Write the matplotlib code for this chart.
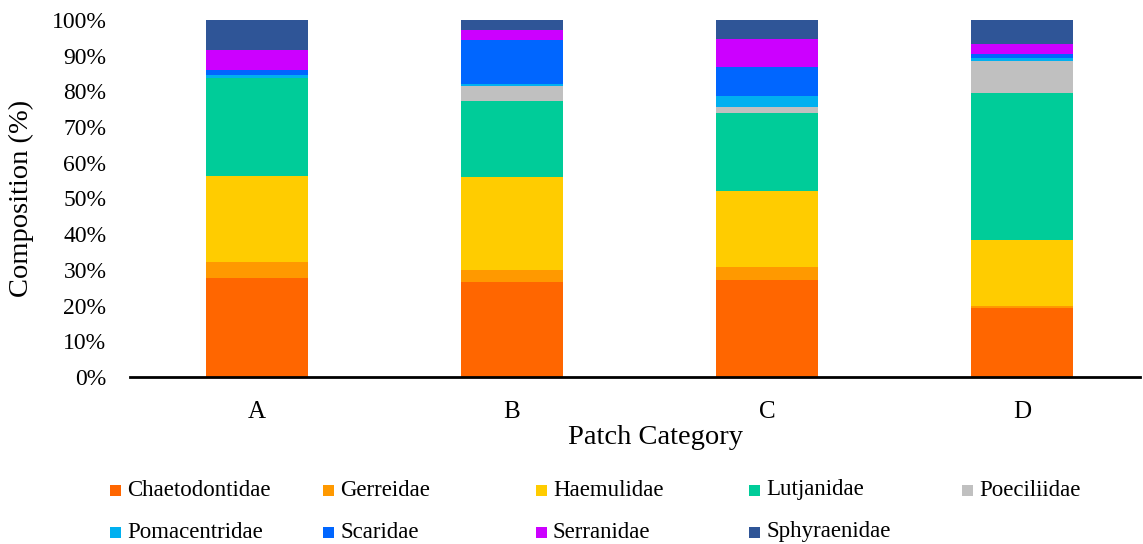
import matplotlib
matplotlib.use("Agg")
import matplotlib.pyplot as plt
from matplotlib.patches import Rectangle
from matplotlib.ticker import PercentFormatter

plt.rcParams['font.family'] = ['Liberation Serif', 'DejaVu Serif']

categories = ["A", "B", "C", "D"]
families = ["Chaetodontidae", "Gerreidae", "Haemulidae", "Lutjanidae", "Poeciliidae",
            "Pomacentridae", "Scaridae", "Serranidae", "Sphyraenidae"]
colors = ["#FF6600", "#FF9900", "#FFCC00", "#00CC99", "#C0C0C0",
          "#00B0F0", "#0066FF", "#CC00FF", "#2F5597"]

# composition (%) per patch category A, B, C, D
chaetodontidae = [27.6, 26.6, 27.1, 19.2]
gerreidae      = [4.6, 3.3, 3.7, 0.6]
haemulidae     = [24.2, 26.0, 21.3, 18.7]
lutjanidae     = [27.4, 21.4, 21.9, 41.1]
poeciliidae    = [0.0, 4.2, 1.7, 8.9]
pomacentridae  = [0.9, 0.6, 3.0, 0.9]
scaridae       = [1.4, 12.3, 8.0, 1.0]
serranidae     = [5.4, 2.8, 8.0, 2.9]
sphyraenidae   = [8.5, 2.8, 5.3, 6.7]

series = [chaetodontidae, gerreidae, haemulidae, lutjanidae, poeciliidae,
          pomacentridae, scaridae, serranidae, sphyraenidae]

W, H = 1143, 544
fig = plt.figure(figsize=(W / 100, H / 100), dpi=100)
ax = fig.add_axes([130 / W, 1 - 377 / H, (1140 - 130) / W, (377 - 20) / H])

x = list(range(len(categories)))
bottom = [0.0] * len(categories)
for vals, col, name in zip(series, colors, families):
    ax.bar(x, vals, width=0.40, bottom=bottom, color=col, label=name,
           edgecolor="none", zorder=2)
    bottom = [b + v for b, v in zip(bottom, vals)]

ax.set_xlim(-0.498, 3.463)
ax.set_ylim(0, 100)
ax.set_yticks(range(0, 101, 10))
ax.yaxis.set_major_formatter(PercentFormatter(decimals=0))
ax.set_xticks(x)
ax.set_xticklabels(categories)
ax.tick_params(axis="both", length=0, colors="black")
ax.tick_params(axis="y", pad=17, labelsize=17)
ax.tick_params(axis="x", pad=17, labelsize=18)

for s in ["top", "right", "left"]:
    ax.spines[s].set_visible(False)
ax.spines["bottom"].set_linewidth(2.0)
ax.spines["bottom"].set_color("black")
ax.spines["bottom"].set_zorder(3)

ax.set_xlabel("Patch Category", fontsize=20.5)
ax.set_ylabel("Composition (%)", fontsize=20.5)
ax.xaxis.set_label_coords((656 - 130) / (1140 - 130), -(438 - 377) / (377 - 20), transform=ax.transAxes)
ax.yaxis.set_label_coords(-(130 - 21) / (1140 - 130), (377 - 198) / (377 - 20))
ax.xaxis.label.set_va("center")
ax.yaxis.label.set_va("center")

# legend laid out in two rows of five equal-width columns
text_x0, col_step = 127, 213
row_y = [490, 532]
sq = 11
for i, (name, col) in enumerate(zip(families, colors)):
    r, c = divmod(i, 5)
    tx, py = text_x0 + col_step * c, row_y[r]
    fig.patches.append(Rectangle(((tx - 17) / W, 1 - (py + sq / 2) / H), sq / W, sq / H,
                                 transform=fig.transFigure, facecolor=col,
                                 edgecolor="none"))
    fig.text(tx / W, 1 - py / H, name, fontsize=16.5, va="center", ha="left")

fig.savefig("out.png", dpi=100)
